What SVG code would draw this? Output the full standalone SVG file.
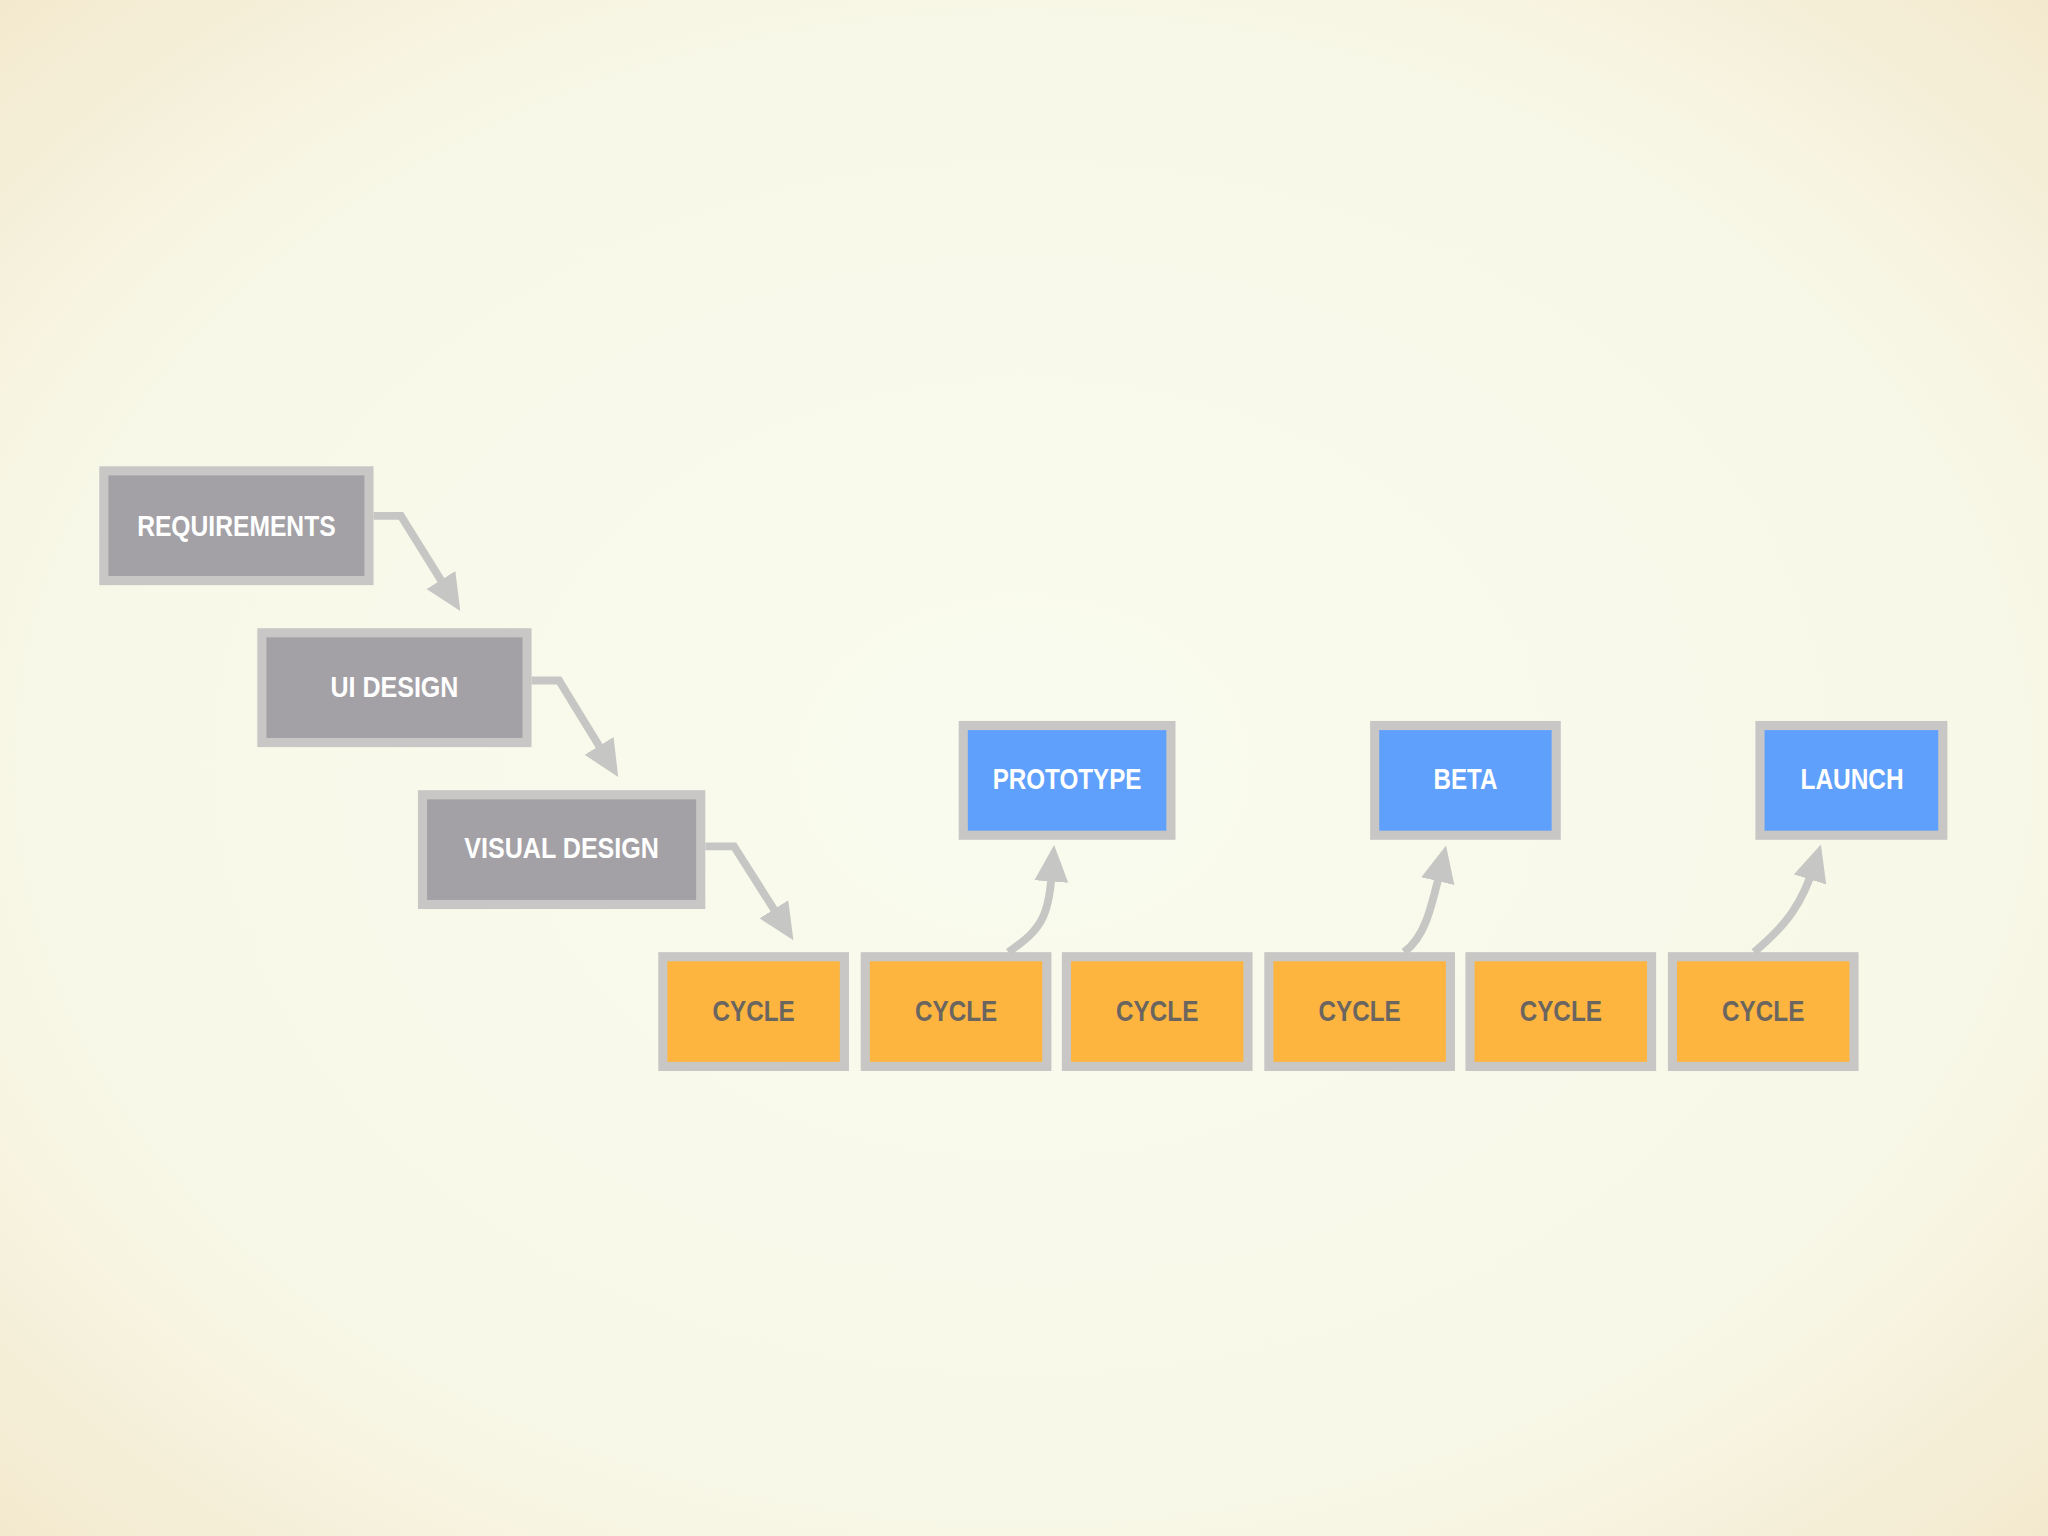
<svg xmlns="http://www.w3.org/2000/svg" width="2048" height="1536" viewBox="0 0 2048 1536">
<defs>
<radialGradient id="bg" cx="50%" cy="50%" r="75%">
<stop offset="0" stop-color="#f9fbee"/><stop offset="0.65" stop-color="#f8f8e8"/><stop offset="1" stop-color="#f2e6c9"/>
</radialGradient>
<marker id="ah" markerUnits="userSpaceOnUse" markerWidth="30" markerHeight="30" viewBox="0 0 30 30" refX="14" refY="15" orient="auto">
<path d="M0,2 L28,15 L0,28 Z" fill="#c6c6c4"/>
</marker>
<style>
.box{stroke:#c8c7c5;stroke-width:7}
.g{fill:#a3a1a6}.o{fill:#fdb53f}.b{fill:#5fa0fc}
.t{font-family:"Liberation Sans",Arial,sans-serif;font-weight:bold;font-size:22px;text-anchor:middle}
.w{fill:#ffffff}.d{fill:#6b6560}
.c{fill:none;stroke:#c6c6c4;stroke-width:6}
</style>
</defs>
<rect width="2048" height="1536" fill="url(#bg)"/>
<g transform="scale(1.3061)">
<g id="requirements"><rect class="box g" x="79.5" y="360.5" width="203" height="84"/><text class="t w" x="181" y="410" textLength="152" lengthAdjust="spacingAndGlyphs">REQUIREMENTS</text></g>
<g id="ui-design"><rect class="box g" x="200.5" y="484.5" width="203" height="84"/><text class="t w" x="302" y="534" textLength="98" lengthAdjust="spacingAndGlyphs">UI DESIGN</text></g>
<g id="visual-design"><rect class="box g" x="323.5" y="608.5" width="213" height="84"/><text class="t w" x="430" y="657" textLength="149" lengthAdjust="spacingAndGlyphs">VISUAL DESIGN</text></g>
<g id="cycle1"><rect class="box o" x="507.5" y="732.5" width="139" height="84"/><text class="t d" x="577" y="782" textLength="63" lengthAdjust="spacingAndGlyphs">CYCLE</text></g>
<g id="cycle2"><rect class="box o" x="662.5" y="732.5" width="139" height="84"/><text class="t d" x="732" y="782" textLength="63" lengthAdjust="spacingAndGlyphs">CYCLE</text></g>
<g id="cycle3"><rect class="box o" x="816.5" y="732.5" width="139" height="84"/><text class="t d" x="886" y="782" textLength="63" lengthAdjust="spacingAndGlyphs">CYCLE</text></g>
<g id="cycle4"><rect class="box o" x="971.5" y="732.5" width="139" height="84"/><text class="t d" x="1041" y="782" textLength="63" lengthAdjust="spacingAndGlyphs">CYCLE</text></g>
<g id="cycle5"><rect class="box o" x="1125.5" y="732.5" width="139" height="84"/><text class="t d" x="1195" y="782" textLength="63" lengthAdjust="spacingAndGlyphs">CYCLE</text></g>
<g id="cycle6"><rect class="box o" x="1280.5" y="732.5" width="139" height="84"/><text class="t d" x="1350" y="782" textLength="63" lengthAdjust="spacingAndGlyphs">CYCLE</text></g>
<g id="prototype"><rect class="box b" x="737.5" y="555.5" width="159" height="84"/><text class="t w" x="817" y="604" textLength="114" lengthAdjust="spacingAndGlyphs">PROTOTYPE</text></g>
<g id="beta"><rect class="box b" x="1052.5" y="555.5" width="139" height="84"/><text class="t w" x="1122" y="604" textLength="49" lengthAdjust="spacingAndGlyphs">BETA</text></g>
<g id="launch"><rect class="box b" x="1347.5" y="555.5" width="140" height="84"/><text class="t w" x="1418" y="604" textLength="79" lengthAdjust="spacingAndGlyphs">LAUNCH</text></g>
<g id="connectors">
<path class="c" d="M286,395 L307,395 L345,456" marker-end="url(#ah)"/>
<path class="c" d="M407,521 L428,521 L466,583" marker-end="url(#ah)"/>
<path class="c" d="M540,648 L562,648 L600,708" marker-end="url(#ah)"/>
<path class="c" d="M772,729 C800,710 803,700 806,661" marker-end="url(#ah)"/>
<path class="c" d="M1075,729 C1090,718 1095,700 1104,661" marker-end="url(#ah)"/>
<path class="c" d="M1343,729 C1368,708 1380,692 1390,660" marker-end="url(#ah)"/>
</g>
</g>
</svg>
